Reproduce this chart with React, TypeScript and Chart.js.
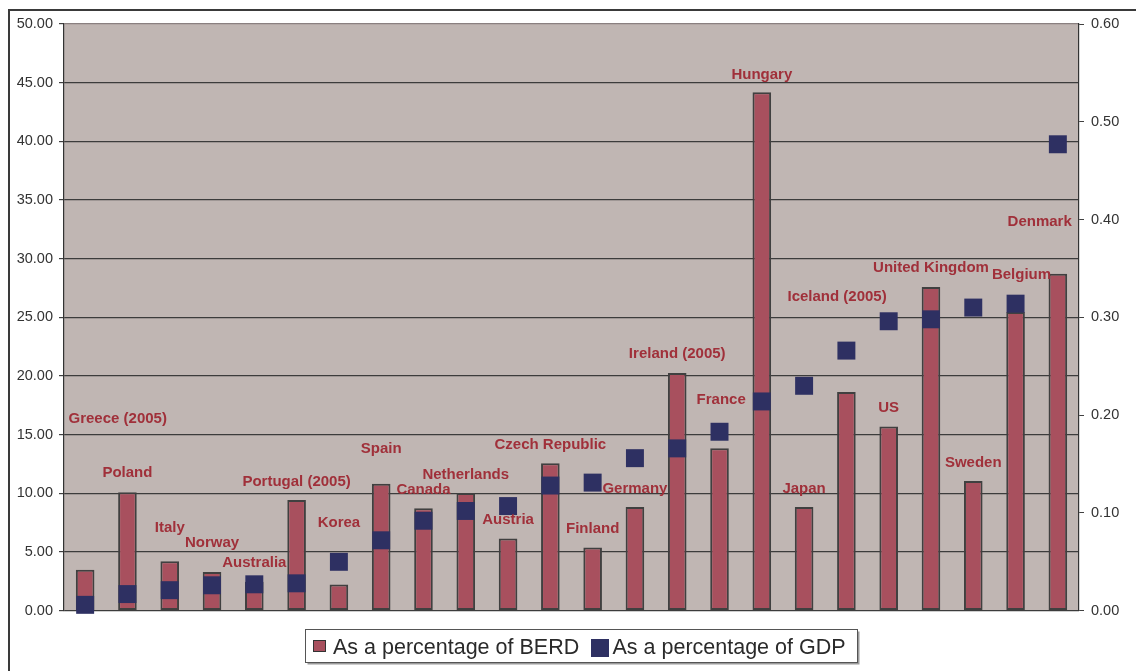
import React, { useEffect, useRef } from "react";
import { Chart, registerables } from "chart.js";

Chart.register(...registerables);

const countries = [
  "Greece (2005)", "Poland", "Italy", "Norway", "Australia", "Portugal (2005)",
  "Korea", "Spain", "Canada", "Netherlands", "Austria", "Czech Republic",
  "Finland", "Germany", "Ireland (2005)", "France", "Hungary", "Japan",
  "Iceland (2005)", "US", "United Kingdom", "Sweden", "Belgium", "Denmark",
];

// As a percentage of BERD (left axis)
const berdShare = [
  3.5, 10.1, 4.22, 3.29, 2.46, 9.43, 2.24, 10.82, 8.73, 10.03, 6.15, 12.57,
  5.39, 8.84, 20.25, 13.85, 44.18, 8.84, 18.64, 15.69, 27.59, 11.05, 25.46, 28.72,
];

// As a percentage of GDP (right axis)
const gdpShare = [
  0.006, 0.017, 0.021, 0.026, 0.027, 0.028, 0.05, 0.072, 0.092, 0.102, 0.107, 0.128,
  0.131, 0.156, 0.166, 0.183, 0.214, 0.23, 0.266, 0.296, 0.298, 0.31, 0.314, 0.477,
];

// Country label anchors: height in left-axis units, horizontal shift in category widths
const labelLevel = [
  16.34, 11.78, 7.05, 5.77, 4.07, 10.97, 7.48, 13.79, 10.29, 11.57, 7.73, 14.13,
  6.97, 10.38, 21.88, 17.96, 45.67, 10.38, 26.74, 17.26, 29.21, 12.59, 28.62, 33.18,
];
const labelShift = [
  0.77, 0, 0, 0, 0, 0, 0, 0, 0, 0, 0, 0,
  0, 0, 0, 0.04, 0, 0, -0.22, 0, 0, 0, 0.14, -0.43,
];

const leftTicks = [0, 5, 10, 15, 20, 25, 30, 35, 40, 45, 50];
const rightTicks = [0, 0.1, 0.2, 0.3, 0.4, 0.5, 0.6];

const seriesNames = ["As a percentage of BERD", "As a percentage of GDP"];

const FONT = "'Liberation Sans', Arial, sans-serif";
const BAR_COLOR = "#a8505e";
const DOT_COLOR = "#2e3062";
const LABEL_COLOR = "#a0303a";
const PLOT_BG = "#c0b6b3";

const decorPlugin = {
  id: "decor",
  beforeDraw(chart: any) {
    const { ctx, chartArea } = chart;
    ctx.save();
    ctx.fillStyle = "#ffffff";
    ctx.fillRect(0, 0, chart.width, chart.height);
    ctx.fillStyle = PLOT_BG;
    ctx.fillRect(chartArea.left, chartArea.top, chartArea.right - chartArea.left, chartArea.bottom - chartArea.top);
    // outer frame (left and top visible)
    ctx.fillStyle = "#3a3a3a";
    ctx.fillRect(8, 9, 2, chart.height);
    ctx.fillRect(8, 9, chart.width, 2);
    ctx.restore();
  },
  afterDatasetsDraw(chart: any) {
    const { ctx } = chart;
    const xs = chart.scales.x;
    const ys = chart.scales.y;
    const cw = (xs.getPixelForValue(1) - xs.getPixelForValue(0));
    ctx.save();
    ctx.font = `bold 15px ${FONT}`;
    ctx.fillStyle = LABEL_COLOR;
    ctx.textAlign = "center";
    ctx.textBaseline = "middle";
    countries.forEach((c, i) => {
      const x = xs.getPixelForValue(i) + labelShift[i] * cw;
      const y = ys.getPixelForValue(labelLevel[i]);
      ctx.fillText(c, x, y);
    });
    ctx.restore();
  },
  afterDraw(chart: any) {
    const { ctx } = chart;
    ctx.save();
    // legend box
    const bx = 305.5, by = 629.5, bw = 552, bh = 33;
    ctx.fillStyle = "#9a9a9a";
    ctx.fillRect(bx + 2, by + 2, bw, bh);
    ctx.fillStyle = "#ffffff";
    ctx.fillRect(bx, by, bw, bh);
    ctx.strokeStyle = "#555555";
    ctx.lineWidth = 1;
    ctx.strokeRect(bx, by, bw, bh);
    // BERD swatch
    ctx.fillStyle = BAR_COLOR;
    ctx.fillRect(313, 640, 13, 12);
    ctx.strokeStyle = "#333333";
    ctx.strokeRect(313.5, 640.5, 12, 11);
    // GDP swatch
    ctx.fillStyle = DOT_COLOR;
    ctx.fillRect(591, 639, 18, 18);
    ctx.font = `21.5px ${FONT}`;
    ctx.fillStyle = "#2a2a2a";
    ctx.textAlign = "left";
    ctx.textBaseline = "alphabetic";
    ctx.fillText(seriesNames[0], 333, 654);
    ctx.fillText(seriesNames[1], 612.5, 654);
    ctx.restore();
  },
};

export default function App() {
  const ref = useRef<HTMLCanvasElement | null>(null);

  useEffect(() => {
    if (!ref.current) return;
    const chart = new Chart(ref.current, {
      type: "bar",
      data: {
        labels: countries,
        datasets: [
          {
            type: "line",
            label: seriesNames[1],
            data: gdpShare,
            yAxisID: "y1",
            showLine: false,
            pointStyle: "rect",
            pointRadius: 12.7,
            pointHoverRadius: 12.7,
            pointBackgroundColor: DOT_COLOR,
            pointBorderWidth: 0,
            backgroundColor: DOT_COLOR,
            borderColor: DOT_COLOR,
            clip: false,
            order: 0,
          } as any,
          {
            type: "bar",
            label: seriesNames[0],
            data: berdShare,
            yAxisID: "y",
            backgroundColor: BAR_COLOR,
            borderColor: "#404040",
            borderWidth: 2,
            borderSkipped: false,
            barPercentage: 0.44,
            categoryPercentage: 1,
            order: 1,
          },
        ],
      },
      options: {
        animation: false,
        responsive: false,
        events: [],
        layout: { padding: { left: 0, right: 0, top: 24, bottom: 60.3 } },
        plugins: {
          legend: { display: false },
          tooltip: { enabled: false },
        },
        scales: {
          x: { display: false, offset: true },
          y: {
            position: "left",
            min: 0,
            max: 50,
            afterFit: (s: any) => { s.width = 64; },
            afterBuildTicks: (s: any) => { s.ticks = leftTicks.map((v) => ({ value: v })); },
            ticks: {
              callback: (v: any) => Number(v).toFixed(2),
              font: { family: FONT, size: 14.5 },
              color: "#333333",
              padding: 6,
            },
            grid: {
              color: (c: any) => (c.tick && c.tick.value === 50 ? "#8a8080" : "#3c3c3c"),
              tickColor: "#404040",
              lineWidth: 1.2,
              tickLength: 5,
              drawTicks: true,
            },
            border: { display: true, color: "#333333", width: 1.2 },
          },
          y1: {
            position: "right",
            min: 0,
            max: 0.6,
            afterFit: (s: any) => { s.width = 57; },
            afterBuildTicks: (s: any) => { s.ticks = rightTicks.map((v) => ({ value: v })); },
            ticks: {
              callback: (v: any) => Number(v).toFixed(2),
              font: { family: FONT, size: 14.5 },
              color: "#333333",
              padding: 7,
            },
            grid: {
              drawOnChartArea: false,
              tickColor: "#404040",
              tickLength: 5,
              drawTicks: true,
            },
            border: { display: true, color: "#333333", width: 1.2 },
          },
        },
      },
      plugins: [decorPlugin],
    });
    return () => chart.destroy();
  }, []);

  return (
    <div style={{ position: "fixed", left: 0, top: 0, width: 1136, height: 671 }}>
      <canvas ref={ref} width={1136} height={671} style={{ display: "block" }} />
    </div>
  );
}
